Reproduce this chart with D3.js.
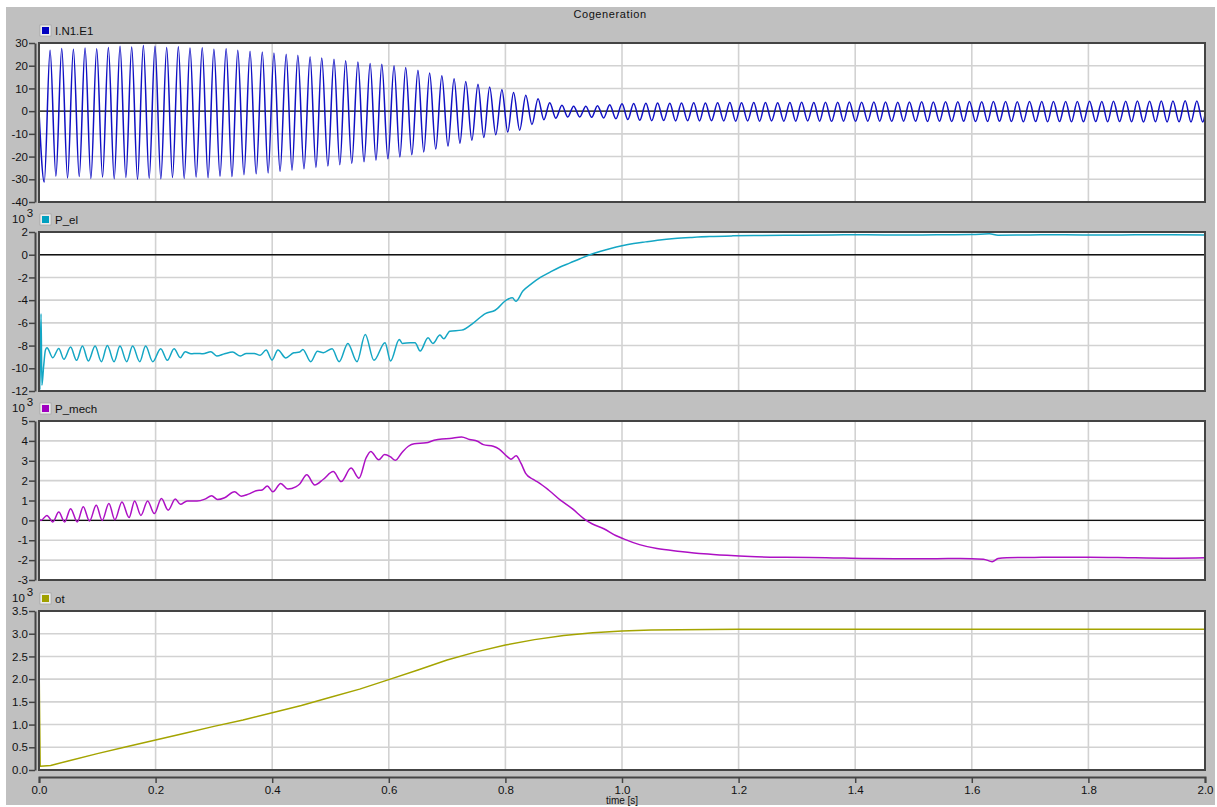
<!DOCTYPE html>
<html>
<head>
<meta charset="utf-8">
<script src="https://cdn.jsdelivr.net/npm/d3@7"></script>
<style>
  body { margin: 0; background: #fff; }
  text { font-family: "Liberation Sans", Arial, sans-serif; fill: #111; }
</style>
</head>
<body>
<div id="chart"></div>
<script>
// ---- data ----

// I.N1.E1: time of each positive peak, peak value, and the trough just before it
const iPeakT = [0.019, 0.039, 0.059, 0.079, 0.099, 0.119, 0.139, 0.159, 0.179, 0.199, 0.219, 0.239, 0.259,
  0.280, 0.300, 0.321, 0.341, 0.362, 0.383, 0.403, 0.424, 0.444, 0.465, 0.485, 0.506, 0.526, 0.547, 0.568,
  0.588, 0.609, 0.629, 0.650, 0.670, 0.691, 0.712, 0.732, 0.753, 0.773, 0.794, 0.814, 0.835,
  0.856, 0.876, 0.897, 0.917, 0.938, 0.958, 0.979, 1.000, 1.020, 1.041, 1.061, 1.082, 1.102, 1.123, 1.143,
  1.164, 1.185, 1.205, 1.226, 1.246, 1.267, 1.288, 1.308, 1.329, 1.349, 1.370, 1.390, 1.411, 1.432, 1.452,
  1.473, 1.493, 1.514, 1.534, 1.555, 1.576, 1.596, 1.617, 1.637, 1.658, 1.678, 1.699, 1.720, 1.740, 1.761,
  1.781, 1.802, 1.823, 1.843, 1.864, 1.884, 1.905, 1.925, 1.945, 1.966, 1.986];
const iHi = [26.8, 27.6, 27.2, 27.8, 27.5, 28.0, 28.6, 28.2, 28.9, 28.6, 28.0, 28.4, 27.8,
  27.9, 27.3, 27.5, 26.8, 26.4, 26.0, 25.6, 25.1, 24.6, 24.0, 23.4, 22.9, 22.2, 21.6, 21.0,
  20.6, 20.0, 19.2, 18.0, 16.8, 15.6, 14.3, 13.0, 11.8, 10.6, 9.4, 8.2, 7.0,
  5.5, 3.7, 2.6, 2.2, 2.2, 2.4, 2.8, 3.2, 3.4, 3.5, 3.6, 3.5, 3.6, 3.7, 3.6,
  3.7, 3.8, 3.7, 3.8, 3.8, 3.7, 3.8, 3.9, 3.8, 3.9, 3.9, 4.0, 3.9, 4.0, 4.0,
  3.9, 4.0, 4.1, 4.0, 4.1, 4.1, 4.2, 4.1, 4.2, 4.2, 4.1, 4.2, 4.3, 4.2, 4.3,
  4.3, 4.4, 4.3, 4.4, 4.4, 4.5, 4.4, 4.5, 4.5, 4.6, 4.5];
const iLo = [-31.2, -28.6, -29.4, -28.8, -29.6, -29.0, -29.8, -29.2, -30.0, -29.5, -29.8, -29.2, -29.6,
  -29.0, -29.3, -28.6, -28.8, -28.0, -27.6, -27.2, -26.6, -26.0, -25.4, -24.8, -24.2, -23.6, -23.0, -22.3,
  -21.6, -21.0, -20.2, -19.2, -18.0, -16.7, -15.4, -14.1, -12.8, -11.6, -10.4, -9.2, -8.4,
  -5.9, -3.8, -3.1, -2.6, -2.6, -2.7, -3.0, -3.4, -3.7, -4.0, -4.2, -4.1, -4.3, -4.2, -4.3,
  -4.2, -4.3, -4.4, -4.3, -4.4, -4.3, -4.4, -4.4, -4.3, -4.4, -4.5, -4.4, -4.5, -4.4, -4.5,
  -4.5, -4.4, -4.5, -4.6, -4.5, -4.6, -4.5, -4.6, -4.6, -4.5, -4.6, -4.7, -4.6, -4.7, -4.6,
  -4.7, -4.7, -4.6, -4.7, -4.6, -4.7, -4.8, -4.7, -4.8, -4.7, -4.8, -4.8];

// P_el [10^3]: [time, value]
const pEl = [[0, 0], [0.0015, -11.9], [0.0035, -5.2], [0.005, -11.5], [0.008, -9.8], [0.011, -8.4],
  [0.0136, -8.19], [0.0237, -9.07], [0.0339, -8.25], [0.0427, -9.21], [0.0542, -8.13], [0.0644, -9.30],
  [0.0745, -8.04], [0.0847, -9.36], [0.0962, -8.04], [0.1070, -9.42], [0.1172, -7.99], [0.1287, -9.42],
  [0.1389, -8.04], [0.1504, -9.42], [0.1606, -8.04], [0.1728, -9.42], [0.1829, -8.04], [0.1951, -9.42],
  [0.2087, -8.28], [0.2202, -9.30], [0.2317, -8.28], [0.2425, -9.07], [0.2507, -8.54], [0.2608, -8.72],
  [0.2710, -8.69], [0.2812, -8.72], [0.2947, -8.54], [0.3049, -8.92], [0.3184, -8.72], [0.3320, -8.57],
  [0.3455, -8.92], [0.3557, -8.69], [0.3692, -8.69], [0.3794, -8.86], [0.3896, -8.39], [0.3997, -9.27],
  [0.4099, -8.39], [0.4234, -9.09], [0.4370, -8.63], [0.4472, -8.57], [0.4526, -8.34], [0.4661, -9.42],
  [0.4776, -8.51], [0.4878, -8.63], [0.5027, -8.28], [0.5149, -9.42], [0.5298, -7.81], [0.5454, -9.42],
  [0.5596, -7.02], [0.5745, -9.30], [0.5935, -7.75], [0.6030, -9.36], [0.6179, -7.46], [0.6233, -7.81],
  [0.6369, -7.75], [0.6450, -7.75], [0.6538, -8.48], [0.6673, -7.31], [0.6755, -7.81], [0.6877, -7.08],
  [0.6944, -7.40], [0.7046, -6.73], [0.7249, -6.64], [0.7453, -6.00], [0.7656, -5.18], [0.7825, -4.89],
  [0.8028, -3.96], [0.812, -3.8], [0.818, -4.1], [0.830, -3.2], [0.845, -2.55], [0.860, -2.0],
  [0.876, -1.55], [0.893, -1.1], [0.911, -0.72], [0.928, -0.35], [0.945, 0.0], [0.962, 0.28],
  [0.979, 0.52], [1.000, 0.78], [1.020, 0.98], [1.040, 1.13], [1.065, 1.30], [1.090, 1.42],
  [1.120, 1.52], [1.150, 1.60], [1.190, 1.66], [1.240, 1.70], [1.300, 1.72], [1.360, 1.74],
  [1.420, 1.76], [1.480, 1.73], [1.540, 1.76], [1.600, 1.77], [1.630, 1.84], [1.645, 1.72],
  [1.700, 1.74], [1.760, 1.76], [1.820, 1.73], [1.880, 1.75], [1.940, 1.76], [2.000, 1.74]];

// P_mech [10^3]: [time, value]
const pMech = [[0, 0.1], [0.0034, 0], [0.0136, 0.25], [0.0237, -0.08], [0.0339, 0.42], [0.0440, -0.08],
  [0.0542, 0.59], [0.0657, -0.08], [0.0759, 0.68], [0.0867, -0.03], [0.0982, 0.76], [0.1084, 0],
  [0.1199, 0.85], [0.1301, 0.03], [0.1423, 0.93], [0.1545, 0.14], [0.1640, 0.98], [0.1748, 0.25],
  [0.1863, 0.98], [0.1978, 0.34], [0.2100, 1.10], [0.2215, 0.51], [0.2337, 1.07], [0.2425, 0.81],
  [0.2541, 0.98], [0.2710, 0.97], [0.2846, 1.07], [0.2961, 1.24], [0.3062, 1.05], [0.3184, 1.14],
  [0.3354, 1.44], [0.3469, 1.22], [0.3591, 1.32], [0.3726, 1.49], [0.3828, 1.53], [0.3916, 1.73],
  [0.4011, 1.44], [0.4146, 1.86], [0.4268, 1.58], [0.4404, 1.69], [0.4472, 1.83], [0.4593, 2.29],
  [0.4729, 1.78], [0.4878, 2.07], [0.5047, 2.46], [0.5183, 1.95], [0.5352, 2.63], [0.5488, 2.12],
  [0.5610, 3.14], [0.5691, 3.47], [0.5827, 3.05], [0.5928, 3.31], [0.6030, 3.19], [0.6111, 3.02],
  [0.6220, 3.39], [0.6335, 3.73], [0.6436, 3.86], [0.6640, 3.90], [0.6775, 4.03], [0.6911, 4.10],
  [0.7046, 4.12], [0.7249, 4.20], [0.7385, 4.07], [0.7520, 3.98], [0.7622, 3.81], [0.7791, 3.73],
  [0.7893, 3.59], [0.8028, 3.22], [0.8096, 3.08], [0.8184, 3.25], [0.8266, 2.88], [0.8347, 2.37],
  [0.8469, 2.07], [0.8570, 1.90], [0.8740, 1.53], [0.8943, 1.02], [0.9146, 0.59], [0.9350, 0.08],
  [0.9485, -0.17], [0.9688, -0.42], [0.9892, -0.76], [1.0027, -0.93], [1.03, -1.22], [1.06, -1.42],
  [1.10, -1.56], [1.14, -1.68], [1.18, -1.76], [1.22, -1.82], [1.28, -1.86], [1.35, -1.88],
  [1.42, -1.92], [1.50, -1.93], [1.58, -1.92], [1.62, -1.95], [1.635, -2.08], [1.645, -1.92],
  [1.66, -1.88], [1.72, -1.86], [1.80, -1.85], [1.88, -1.88], [1.95, -1.90], [2.00, -1.88]];

// ot [10^3]: [time, value]
const ot = [[0, 2.5], [0.002, 0.08], [0.02, 0.1], [0.05, 0.2], [0.1, 0.36], [0.15, 0.51], [0.2, 0.66],
  [0.25, 0.81], [0.3, 0.96], [0.35, 1.1], [0.4, 1.26], [0.45, 1.42], [0.5, 1.6], [0.55, 1.78],
  [0.6, 1.99], [0.65, 2.2], [0.7, 2.42], [0.75, 2.6], [0.8, 2.75], [0.85, 2.87], [0.9, 2.96],
  [0.95, 3.02], [1.0, 3.06], [1.05, 3.08], [1.1, 3.09], [1.2, 3.1], [1.4, 3.1], [1.6, 3.1],
  [1.8, 3.1], [2.0, 3.1]];

const seriesNames = ["I.N1.E1", "P_el", "P_mech", "ot"];
const lineColors = ["#1010c4", "#14a6c4", "#ad10c4", "#a4a400"];
const swatchColors = ["#0000c0", "#00a0c0", "#a000c0", "#a0a000"];
const yDomains = [[-40, 30], [-12, 2], [-3, 5], [0, 3.5]];
const yTicks = [
  [-40, -30, -20, -10, 0, 10, 20, 30],
  [-12, -10, -8, -6, -4, -2, 0, 2],
  [-3, -2, -1, 0, 1, 2, 3, 4, 5],
  [0, 0.5, 1, 1.5, 2, 2.5, 3, 3.5]
];
const xTicks = [0, 0.2, 0.4, 0.6, 0.8, 1.0, 1.2, 1.4, 1.6, 1.8, 2.0];

// build I.N1.E1 polyline through its extrema
const iN1 = [[0, 0]];
iPeakT.forEach((t, k) => {
  const tt = k === 0 ? 0.009 : (iPeakT[k - 1] + t) / 2;
  iN1.push([tt, iLo[k]]);
  iN1.push([t, iHi[k]]);
});
iN1.push([1.996, iLo[iLo.length - 1]]);
iN1.push([2.0, -1.5]);

const seriesData = [iN1, pEl, pMech, ot];

// ---- layout ----
const W = 1217, H = 807;
const plotL = 39, plotR = 1205;
const tops = [43, 232, 421, 611];
const panelH = 159;
const axisX = 35;
const xAxisY = 777;

const svg = d3.select("#chart").append("svg")
  .attr("width", W)
  .attr("height", H);

svg.append("rect")
  .attr("x", 6).attr("y", 7)
  .attr("width", 1209).attr("height", 798)
  .attr("fill", "#c0c0c0");

svg.append("text")
  .attr("x", 610).attr("y", 18)
  .attr("text-anchor", "middle")
  .attr("font-size", 11)
  .attr("letter-spacing", 0.6)
  .text("Cogeneration");

const x = d3.scaleLinear().domain([0, 2]).range([plotL, plotR]);

const fmt = (i) => (i === 3 ? (d) => d.toFixed(1) : (d) => String(d));

seriesNames.forEach((name, i) => {
  const top = tops[i], bottom = top + panelH;
  const y = d3.scaleLinear().domain(yDomains[i]).range([bottom, top]);

  // plot background
  svg.append("rect")
    .attr("x", plotL).attr("y", top)
    .attr("width", plotR - plotL).attr("height", panelH)
    .attr("fill", "#fff");

  const g = svg.append("g");

  // grid
  g.selectAll(".hg")
    .data(yTicks[i].filter(v => v !== yDomains[i][0] && v !== yDomains[i][1]))
    .enter().append("line")
    .attr("x1", plotL).attr("x2", plotR)
    .attr("y1", d => y(d)).attr("y2", d => y(d))
    .attr("stroke", "#d2d2d2").attr("stroke-width", 1.6);

  g.selectAll(".vg")
    .data(xTicks.slice(1, -1))
    .enter().append("line")
    .attr("x1", d => x(d)).attr("x2", d => x(d))
    .attr("y1", top).attr("y2", bottom)
    .attr("stroke", "#d2d2d2").attr("stroke-width", 1.6);

  // zero line
  if (yDomains[i][0] < 0 && yDomains[i][1] > 0) {
    g.append("line")
      .attr("x1", plotL).attr("x2", plotR)
      .attr("y1", y(0)).attr("y2", y(0))
      .attr("stroke", "#111").attr("stroke-width", 1.4);
  }

  // data line
  const clipId = "clip" + i;
  svg.append("clipPath").attr("id", clipId)
    .append("rect")
    .attr("x", plotL).attr("y", top)
    .attr("width", plotR - plotL).attr("height", panelH);

  const line = d3.line()
    .x(d => x(d[0]))
    .y(d => y(d[1]))
    .curve(i === 3 ? d3.curveLinear : d3.curveMonotoneX);

  g.append("path")
    .datum(seriesData[i])
    .attr("clip-path", `url(#${clipId})`)
    .attr("fill", "none")
    .attr("stroke", lineColors[i])
    .attr("stroke-width", 1.5)
    .attr("stroke-linejoin", "round")
    .attr("d", line);

  // frame
  svg.append("rect")
    .attr("x", plotL).attr("y", top)
    .attr("width", plotR - plotL).attr("height", panelH)
    .attr("fill", "none")
    .attr("stroke", "#444").attr("stroke-width", 2);

  // y axis
  const ax = svg.append("g")
    .attr("transform", `translate(${axisX},0)`)
    .call(d3.axisLeft(y).tickValues(yTicks[i]).tickSize(6).tickSizeOuter(0)
      .tickPadding(1).tickFormat(fmt(i)));
  ax.select(".domain").attr("stroke", "#444").attr("stroke-width", 2);
  ax.selectAll(".tick line").attr("stroke", "#444").attr("stroke-width", 1.5);
  ax.selectAll(".tick text")
    .attr("font-size", 11.5)
    .attr("fill", "#111")
    .attr("font-family", "Liberation Sans, Arial, sans-serif");

  // legend swatch + name
  svg.append("rect")
    .attr("x", 40).attr("y", top - 18)
    .attr("width", 11).attr("height", 11)
    .attr("fill", "#ececec").attr("stroke", "#9a9a9a").attr("stroke-width", 0.6);
  svg.append("rect")
    .attr("x", 42).attr("y", top - 16)
    .attr("width", 7).attr("height", 7)
    .attr("fill", swatchColors[i]);
  svg.append("text")
    .attr("x", 55).attr("y", top - 8)
    .attr("font-size", 11.5)
    .text(name);

  // exponent marker
  if (i > 0) {
    const e = svg.append("text")
      .attr("x", 12).attr("y", top - 9)
      .attr("font-size", 11.5);
    e.append("tspan").text("10");
    e.append("tspan").attr("dx", 2).attr("dy", -6).text("3");
  }
});

// x axis
const xa = svg.append("g")
  .attr("transform", `translate(0,${xAxisY})`)
  .call(d3.axisBottom(x).tickValues(xTicks).tickSize(6).tickSizeOuter(6)
    .tickPadding(3).tickFormat(d3.format(".1f")));
xa.select(".domain").attr("stroke", "#444").attr("stroke-width", 2);
xa.selectAll(".tick line").attr("stroke", "#444").attr("stroke-width", 1.5);
xa.selectAll(".tick text")
  .attr("font-size", 11.5)
  .attr("fill", "#111")
  .attr("font-family", "Liberation Sans, Arial, sans-serif");

svg.append("text")
  .attr("x", 622).attr("y", 804)
  .attr("text-anchor", "middle")
  .attr("font-size", 10)
  .text("time [s]");
</script>
</body>
</html>
